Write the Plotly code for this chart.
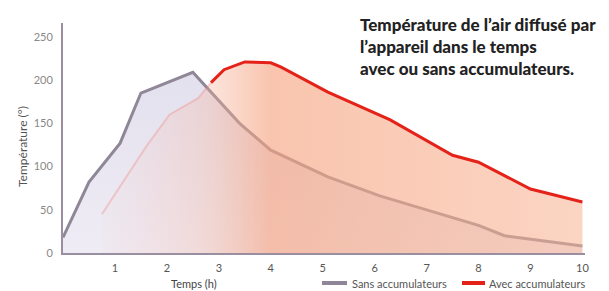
import plotly.graph_objects as go

# Data
sans_x = [0, 0.5, 1.1, 1.5, 2.5, 3.4, 4.0, 5.1, 6.1, 7.0, 8.0, 8.5, 10]
sans_y = [18, 82, 127, 185, 209, 150, 119, 88, 66, 50, 32, 20, 8]

avec_x = [0.75, 1.6, 2.05, 2.6, 2.85, 3.1, 3.5, 4.0, 4.2, 5.1, 6.3, 7.5, 8.0, 9.0, 10]
avec_y = [45, 123, 160, 179, 197, 212, 221, 220, 215, 186, 154, 113, 105, 74, 59]
avec_solid_from = 4  # index where the red line becomes solid

y_ticks = [0, 50, 100, 150, 200, 250]
x_ticks = [1, 2, 3, 4, 5, 6, 7, 8, 9, 10]

title_lines = ["Température de l’air diffusé par",
               "l’appareil dans le temps",
               "avec ou sans accumulateurs."]
x_title = "Temps (h)"
y_title = "Température (°)"
names = ["Sans accumulateurs", "Avec accumulateurs"]

GRAY = "#8f8797"
RED = "#e42219"
FONT = "Lato"

W, H = 609, 291
ML, MR, MT, MB = 63, 24, 23, 38
PW, PH = W - ML - MR, H - MT - MB


def px(xp):
    return (xp - ML) / PW


def py(yp):
    return (H - MB - yp) / PH


fig = go.Figure()

# Gray series fill + line
fig.add_trace(go.Scatter(
    x=sans_x, y=sans_y, mode="lines", fill="tozeroy",
    line=dict(color=GRAY, width=3),
    fillgradient=dict(type="vertical",
                      colorscale=[[0, "rgba(225,220,235,0.55)"], [1, "rgba(205,200,225,0.55)"]]),
    name=names[0], showlegend=False, hoverinfo="skip"))

# Red series fill (horizontal fade from left)
fig.add_trace(go.Scatter(
    x=avec_x, y=avec_y, mode="lines", fill="tozeroy",
    line=dict(color="rgba(0,0,0,0)", width=0),
    fillgradient=dict(type="horizontal",
                      colorscale=[[0, "rgba(248,190,185,0.05)"],
                                  [0.22, "rgba(247,175,150,0.32)"],
                                  [0.35, "rgba(246,165,130,0.65)"],
                                  [1, "rgba(248,178,145,0.55)"]]),
    showlegend=False, hoverinfo="skip"))

# Faded start of red line
fig.add_trace(go.Scatter(
    x=avec_x[:avec_solid_from + 1], y=avec_y[:avec_solid_from + 1], mode="lines",
    line=dict(color="rgba(240,110,100,0.28)", width=2),
    showlegend=False, hoverinfo="skip"))

# Solid red line
fig.add_trace(go.Scatter(
    x=avec_x[avec_solid_from:], y=avec_y[avec_solid_from:], mode="lines",
    line=dict(color=RED, width=3),
    showlegend=False, hoverinfo="skip"))

fig.update_layout(
    width=W, height=H,
    margin=dict(l=ML, r=MR, t=MT, b=MB, autoexpand=False),
    paper_bgcolor="white", plot_bgcolor="white",
    font=dict(family=FONT, color="#555555", size=11),
    showlegend=False,
    xaxis=dict(range=[0, 10.05], tickvals=x_ticks, showgrid=False, zeroline=False,
               showline=True, linecolor="#9a8fa0", linewidth=2,
               ticks="", ticklabelstandoff=4, tickfont=dict(size=11, color="#555555"),
               fixedrange=True),
    yaxis=dict(range=[0, 266], tickvals=y_ticks, showgrid=False, zeroline=False,
               showline=True, linecolor="#9a8fa0", linewidth=2,
               ticks="", ticklabelstandoff=6, tickfont=dict(size=11, color="#888888"),
               fixedrange=True),
)

# Manual legend (line swatch + label)
legend_items = [(322, 347, 350, GRAY, names[0]), (462, 485, 487, RED, names[1])]
for x0, x1, xt, col, label in legend_items:
    fig.add_shape(type="line", xref="paper", yref="paper",
                  x0=px(x0), x1=px(x1), y0=py(283), y1=py(283),
                  line=dict(color=col, width=4))
    fig.add_annotation(text=label, xref="paper", yref="paper", x=px(xt), y=py(283),
                       xanchor="left", yanchor="middle", showarrow=False,
                       font=dict(size=11, color="#555555", family=FONT))

fig.add_annotation(text=x_title, xref="paper", yref="paper", x=px(194), y=py(283),
                   xanchor="center", yanchor="middle", showarrow=False,
                   font=dict(size=11, color="#444444", family=FONT))
fig.add_annotation(text=y_title, xref="paper", yref="paper", x=px(22), y=py(147),
                   xanchor="center", yanchor="middle", showarrow=False, textangle=-90,
                   font=dict(size=12, color="#555555", family=FONT))
fig.add_annotation(text="<br>".join(title_lines), xref="paper", yref="paper",
                   x=px(358), y=py(12), xanchor="left", yanchor="top", align="left",
                   showarrow=False,
                   font=dict(size=17, color="#222222", family=FONT + " Black, " + FONT))

fig.write_html("out.html", config={"displayModeBar": False},
               post_script="document.body.style.margin='0';document.body.style.overflow='hidden';")
